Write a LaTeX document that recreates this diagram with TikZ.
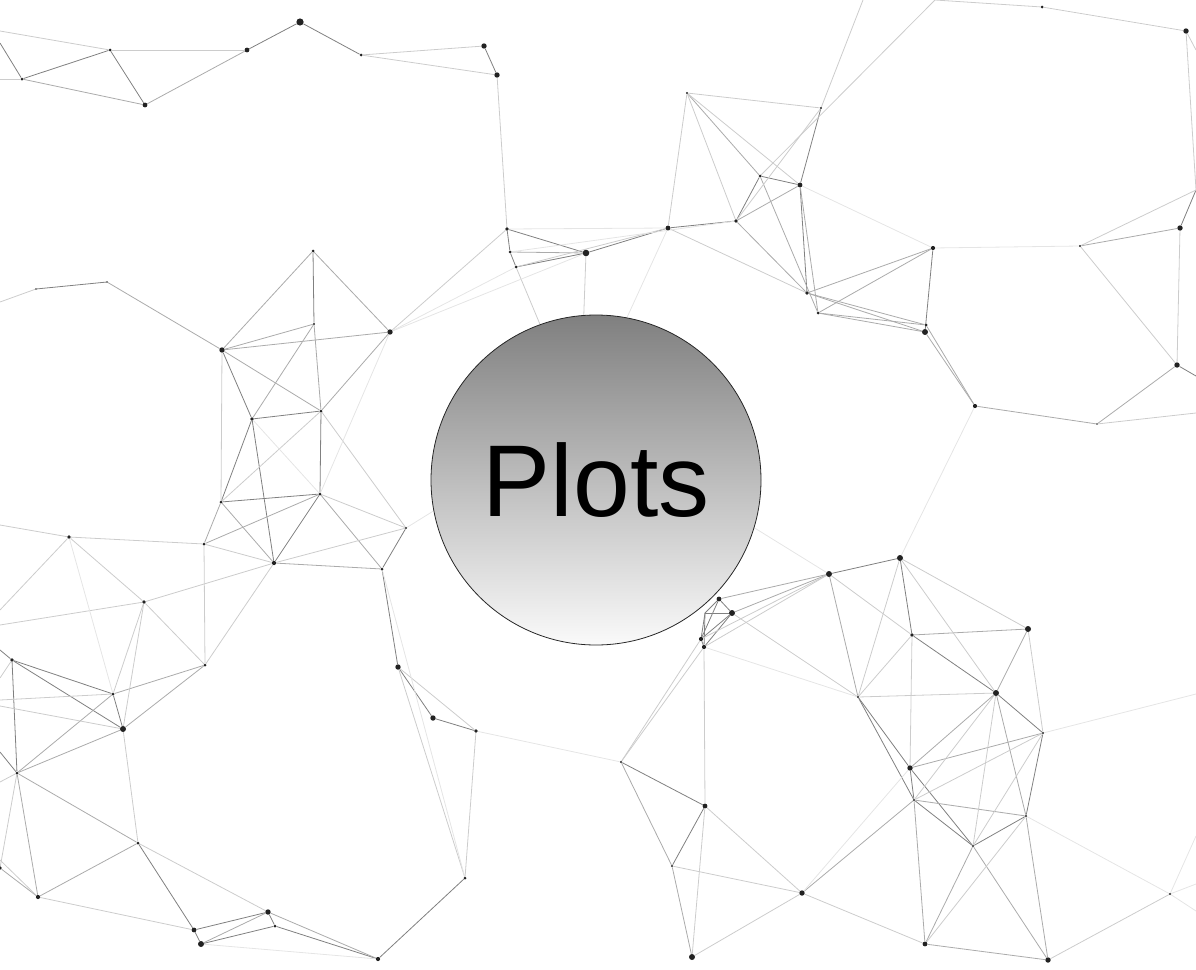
\documentclass[tikz,border=0pt]{standalone}
\usepackage{xcolor}
\usepackage{fontspec}
\usepackage{tikz}
\usetikzlibrary{backgrounds}
\newfontfamily\plotfont{Liberation Sans}
\definecolor{dotc}{HTML}{222222}

\begin{document}
\begin{tikzpicture}[x = 1pt, y = -1pt,
	dot/.style = {circle, fill = dotc, inner sep = 0pt},
	edk/.style = {draw = black!50, line width = 0.8pt},
	emd/.style = {draw = black!33, line width = 0.8pt},
	elt/.style = {draw = black!20, line width = 0.8pt},
	efn/.style = {draw = black!10, line width = 0.8pt}]
	\useasboundingbox (0,0) rectangle (1196,969);
	% points of the net
	\foreach \n/\x/\y/\s in {a1/22/79/2.5, a2/110/50/2.5, a3/145/105/4, a4/247/50/4, a5/300/22/6, a6/361/55/2.5, a7/484/46/4.5, a8/497/75/4.5,
		b1/507/229/3, b2/510/252/2.5, b3/516/267/2.5, b4/586/253/5.5, b5/668/228/4, b6/687/93/2, b7/736/221/3, b8/760/176/2.5, b9/800/185/4, b10/821/108/2,
		c1/1042/7/2.5, c2/1186/31/4.5, c3/1180/228/4.5, c4/1080/246/2, c5/933/248/3.5, c6/807/293/3, c7/818/313/2.5, c8/925/332/5, c9/926/325/2.5, c10/975/406/3.5, c11/1097/424/1.5, c12/1177/365/4.5,
		d1/36/289/1.5, d2/107/282/1.5, d3/313/251/2.5, d4/222/350/4.5, d5/314/324/2, d6/390/332/4.5, d7/252/419/3, d8/321/411/2.5, d9/221/502/2.5, d10/320/494/2.5, d11/204/544/2.5, d12/274/563/3.5, d13/382/569/2.5, d14/406/528/2, d15/69/537/3, d16/144/602/3,
		e1/12/660/3, e2/113/694/2.5, e3/123/729/5, e4/205/665/2.5, e5/17/773/2.5, e6/138/843/2.5, e7/0/868/3, e8/38/897/3.5, e9/194/930/4, e10/201/944/5, e11/268/912/4.5, e12/275/926/2.5, e13/378/959/3.5, e14/398/667/4.5, e15/465/878/2.5,
		f1/433/718/4.5, f2/476/731/3, f3/621/762/2, f4/705/806/4, f5/672/866/2, f6/692/957/5, f7/802/893/4.5,
		g1/719/599/4, g2/732/613/5, g3/701/639/3.5, g4/704/647/3.5,
		h1/829/574/5, h2/900/558/5, h3/912/635/3, h4/1028/629/5, h5/858/697/2, h6/996/693/5, h7/1043/733/2, h8/910/768/4.5, h9/914/800/2, h10/1026/816/2, h11/973/846/2, h12/925/944/4, h13/1048/960/4.5, h14/1170/894/2}{
		\node[dot, minimum size = 1.2 * \s] (\n) at (\x, \y) {};}
	% loose ends at the border and behind the disc
	\foreach \n/\x/\y in {w1/0/31, w2/0/43, w3/0/79, w4/0/302, w5/0/525, w6/0/610, w7/0/860, w8/0/678, w9/0/700, w10/0/706, w11/0/752, w12/0/782, w13/0/625, w14/0/650,
		t1/863/0, t2/935/0, rb1/1196/50, rb2/1196/190, rb4/1196/376, rb5/1196/413, rb6/1196/694, rb7/1196/884, rb8/1196/836, rb9/1196/911, x1/580/420, g5/705/613}{
		\coordinate (\n) at (\x, \y);}
	\begin{pgfonlayer}{background}
	\foreach \a/\b in {a1/a2, a2/a3, a4/a5, a5/a6, a7/a8, w2/a1, b1/b2, b2/b3, b1/b4, b3/b4, b4/b5, b5/b7, b7/b8, b8/b9, b9/b10, b9/c6, c5/c8, c3/rb2, c12/rb4,
		d1/d2, d3/d5, d4/d7, d7/d9, d7/d12, d8/d10, d10/d12, d9/d10, d13/d14, d7/d8, d13/e14, w11/e5,
		e1/e2, e1/e3, e2/e3, e1/e5, e6/e9, e9/e10, e9/e11, e10/e12, e11/e12, e12/e13, e13/e15, w14/e1, e14/f1, f1/f2, f4/f5, f3/f4,
		g1/g2, g1/g5, g5/g2, g5/g3, g5/g4, g1/g3, g2/g3, g3/g4, g2/g4,
		h1/h2, h2/h3, h3/h6, h6/h7, h5/h8, h5/h9, h7/h10, h8/h9, h9/h11, h10/h11, h8/h11}{
		\draw[edk] (\a) -- (\b);}
	\foreach \a/\b in {a3/a4, a1/a3, b2/b4, b9/c7, c4/c3, c6/c8, c7/c8, c8/c10, c9/c10, c12/c11, d4/d8, d5/d7, d5/d8, d9/d12, d10/d11, d10/d13, d12/d13, d11/d9, d4/d5, d3/d6,
		e3/e4, e5/e6, e2/e4, e2/e5, e3/e5, e5/e8, e6/e8, e7/e8, e10/e11, e11/e13, f5/f6, f3/f5, h4/h6, h6/h8, h6/h10, h7/h8, h9/h10, h11/h12, h11/h13, h10/h13, h12/h13, h9/h12, h9/f7, h1/h5, h3/h4, h1/g1, h1/g2,
		b6/b8, b7/b9, b8/c7, b7/c6, c6/c9, c7/c9, c5/c6, c5/c7, c10/c11, d6/d8, d2/d4, d3/d4, d4/d6}{
		\draw[emd] (\a) -- (\b);}
	\foreach \a/\b in {w3/a1, w1/a2, a2/a4, a6/a7, a6/a8, a8/b1, b3/b5, b5/b6, b6/b9, b6/b10, b6/b7, b7/b10, b5/c6, b4/x1, b3/x1, t1/b10, t2/b8, t2/c1, c1/c2, c2/rb1, c2/rb2, c4/rb2, c4/c12, c3/c12, c11/rb5,
		d1/w4, d4/d9, d6/b1, d8/d9, d8/d14, d10/d14, d12/d14, d11/d12, d11/d15, d11/e4, d12/e4, d12/d16, d15/d16, d15/w5, d15/w6, d16/e2, d16/e3, d16/e4, d16/w13,
		e3/e6, e6/e11, e8/e9, e8/w7, e1/w8, e2/w9, e3/w10, e5/w12, e7/e5, e14/e15, e14/f2, f2/e15, f4/f6, f4/f7, f5/f7, f6/f7, f3/g3, f3/g4, g4/f4,
		h1/g3, h1/g4, h1/h3, h2/h4, h2/h5, h2/h6, h3/h5, h3/h8, h5/h6, h4/h7, h6/h9, h6/h11, h7/h9, h7/h11, h12/f7, h13/h14, h10/h12, g2/h5}{
		\draw[elt] (\a) -- (\b);}
	\foreach \a/\b in {b1/b5, b2/b7, b5/x1, b9/c5, c4/c5, c10/h2, d6/b3, d6/b4, d6/d10, d7/d10, d15/e2, d13/e15, d14/x1, e10/e13, f2/f3, h1/x1, h7/rb6, h10/h14, h14/rb7, h14/rb8, h14/rb9, h8/f7, g4/h5}{
		\draw[efn] (\a) -- (\b);}
	\end{pgfonlayer}
	% the disc
	\node[circle, draw = black!85, line width = 0.8pt, minimum size = 330pt, top color = black!50, bottom color = black!2, text = black] (plots) at (596, 480) {\plotfont\fontsize{102}{110}\selectfont Plots};
\end{tikzpicture}
\end{document}
